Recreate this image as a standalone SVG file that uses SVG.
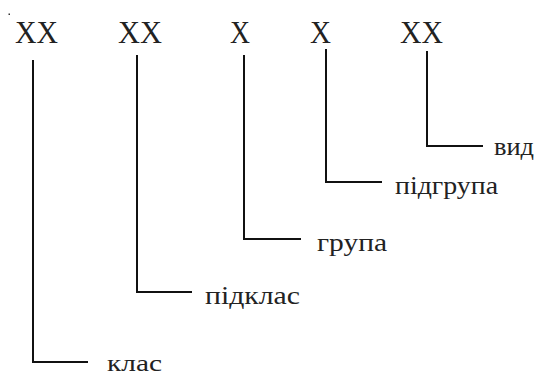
<svg xmlns="http://www.w3.org/2000/svg" width="538" height="376" viewBox="0 0 538 376">
<style>
.code{font-family:"Liberation Serif","Times New Roman",serif;font-size:31px;fill:#222}
.lbl{font-family:"Liberation Serif","Times New Roman",serif;font-size:25px;fill:#222}
.conn{fill:none;stroke:#111;stroke-width:2}
</style>
<rect width="538" height="376" fill="#fff"/>
<rect x="8.5" y="13.5" width="1.5" height="1.5" fill="#333"/>
<g id="codes">
<text class="code" x="15" y="43" textLength="43" lengthAdjust="spacingAndGlyphs">XX</text>
<text class="code" x="118" y="43" textLength="44" lengthAdjust="spacingAndGlyphs">XX</text>
<text class="code" x="230" y="43" textLength="20" lengthAdjust="spacingAndGlyphs">X</text>
<text class="code" x="310" y="43" textLength="21" lengthAdjust="spacingAndGlyphs">X</text>
<text class="code" x="400" y="43" textLength="43" lengthAdjust="spacingAndGlyphs">XX</text>
</g>
<g id="connectors">
<polyline class="conn" points="33,60 33,362 88,362"/>
<polyline class="conn" points="137,55 137,292 192,292"/>
<polyline class="conn" points="244,55 244,239 301,239"/>
<polyline class="conn" points="326,49 326,182 382,182"/>
<polyline class="conn" points="427,51 427,146 483,146"/>
</g>
<g id="klas"><text class="lbl" x="107" y="371" style="font-size:23px" textLength="55" lengthAdjust="spacingAndGlyphs">клас</text></g>
<g id="pidklas"><text class="lbl" x="205" y="304" textLength="95" lengthAdjust="spacingAndGlyphs">підклас</text></g>
<g id="hrupa"><text class="lbl" x="317" y="251" textLength="70" lengthAdjust="spacingAndGlyphs">група</text></g>
<g id="pidhrupa"><text class="lbl" x="395" y="194" textLength="103" lengthAdjust="spacingAndGlyphs">підгрупа</text></g>
<g id="vyd"><text class="lbl" x="494" y="155" textLength="40" lengthAdjust="spacingAndGlyphs">вид</text></g>
</svg>
